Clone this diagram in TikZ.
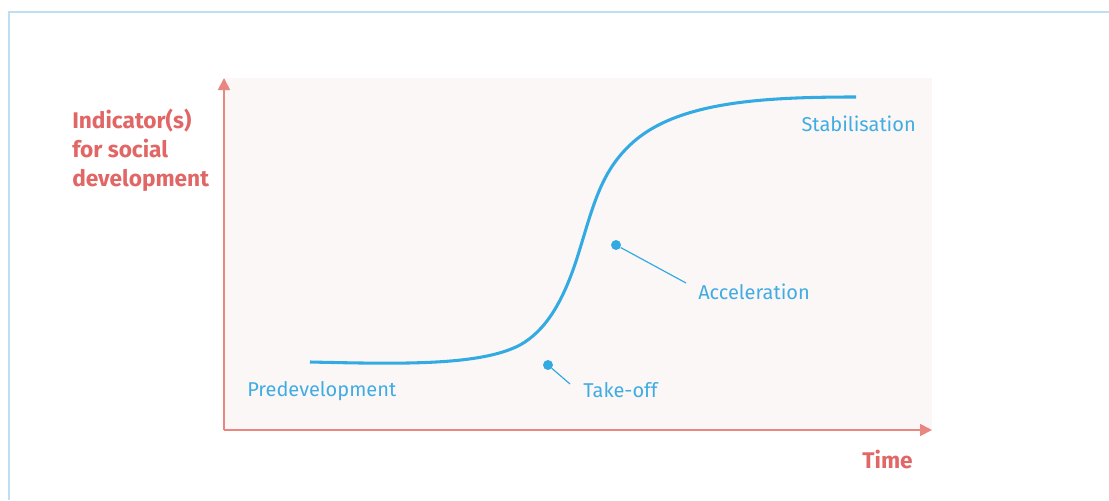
\documentclass[tikz,border=0pt]{standalone}
\usepackage{fontspec}
\setmainfont{Fira Sans}
\usetikzlibrary{arrows.meta}
\definecolor{frameblue}{RGB}{190,222,242}
\definecolor{bgpink}{RGB}{252,247,247}
\definecolor{axisred}{RGB}{234,134,128}
\definecolor{labred}{RGB}{225,102,102}
\definecolor{curveblue}{RGB}{52,170,226}
\definecolor{txtblue}{RGB}{64,172,226}

\begin{document}
\begin{tikzpicture}[x=0.75pt,y=-0.75pt,
    axis/.style={axisred,line width=1.3pt,-{Triangle[length=9pt,width=9pt]}},
    axlabel/.style={labred,font=\fontsize{17}{21.75}\selectfont\bfseries,inner sep=0pt,align=left},
    phase/.style={txtblue,font=\fontsize{15}{18}\selectfont,inner sep=0pt},
    pin/.style={circle,fill=curveblue,inner sep=0pt,minimum size=7.5pt}]
            \useasboundingbox (0,0) rectangle (1109,500);
            \draw[frameblue,line width=1.2pt] (9,500) -- (9,12) -- (1109,12);
            \fill[bgpink] (224,78) rectangle (932,430);
            \coordinate (O) at (224,430);
            \coordinate (ytip) at (224,78);
            \coordinate (xtip) at (932,430);
            \draw[axis] (O) -- (ytip);
            \draw[axis] (O) -- (xtip);
            \node[axlabel,anchor=west] (ylab) at (72,150) {Indicator(s)\\for social\\development};
            \node[axlabel,anchor=east] (xlab) at (913,459) {Time};
            % s-curve
            \draw[curveblue,line width=2.3pt] (310,362) .. controls (400,364) and (480,366) .. (520,345)
                .. controls (545,331) and (563,303) .. (578,255)
                .. controls (593,207) and (600,173.5) .. (630,145)
                .. controls (675,102) and (760,97) .. (856,97);
            \node[phase,anchor=west] (pre) at (247,391) {Predevelopment};
            \node[phase,anchor=west] (take) at (583,390) {Take-off};
            \node[phase,anchor=west] (acc) at (698,292) {Acceleration};
            \node[phase,anchor=east] (stab) at (916,124) {Stabilisation};
            \node[pin] (takedot) at (548,365) {};
            \node[pin] (accdot) at (616,245) {};
            \coordinate (takeend) at (570,384);
            \coordinate (accend) at (686,283);
            \draw[curveblue,line width=0.9pt] (takedot) -- (takeend);
            \draw[curveblue,line width=0.9pt] (accdot) -- (accend);
        \end{tikzpicture}
\end{document}
